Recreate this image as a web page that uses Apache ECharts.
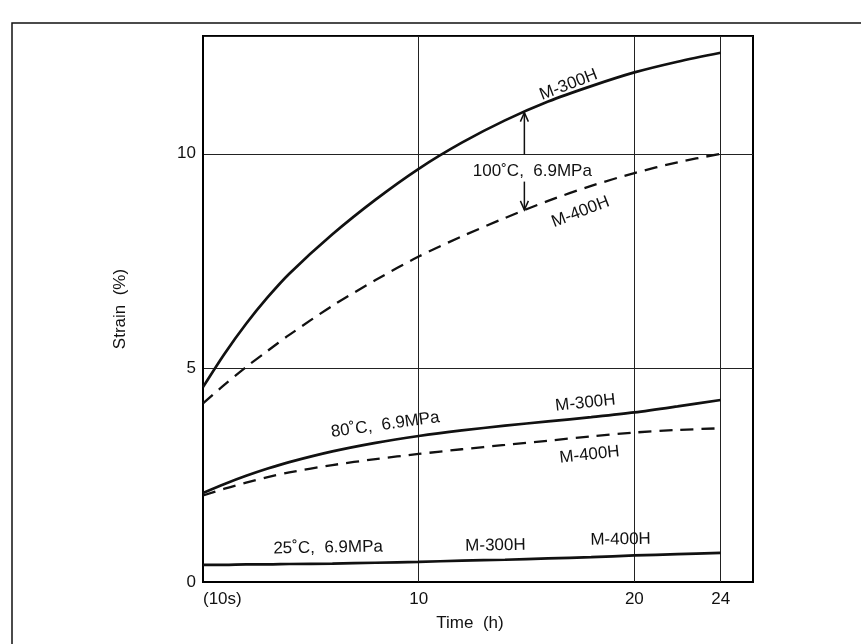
<!DOCTYPE html>
<html>
<head>
<meta charset="utf-8">
<script src="https://cdn.jsdelivr.net/npm/echarts@6/dist/echarts.min.js"></script>
<style>
html,body{margin:0;padding:0;background:#fff;}
#c{width:861px;height:644px;}
</style>
</head>
<body>
<div id="c"></div>
<script>
// ---- data ----
const times = [0, 1, 2, 3, 4, 6, 8, 10, 12, 14, 16, 18, 20, 22, 24];
const s100_M300H = [4.55, 5.33, 6.03, 6.65, 7.2, 8.12, 8.93, 9.65, 10.26, 10.78, 11.22, 11.58, 11.9, 12.15, 12.36];
const s100_M400H = [4.17, 4.61, 5.02, 5.4, 5.77, 6.45, 7.05, 7.6, 8.07, 8.5, 8.9, 9.25, 9.55, 9.8, 10.0];
const s80_M300H = [2.08, 2.29, 2.48, 2.65, 2.8, 3.05, 3.25, 3.41, 3.54, 3.65, 3.75, 3.85, 3.96, 4.1, 4.25];
const s80_M400H = [2.02, 2.18, 2.32, 2.45, 2.56, 2.73, 2.87, 2.99, 3.1, 3.2, 3.3, 3.4, 3.49, 3.55, 3.59];
const s25_both = [0.4, 0.4, 0.41, 0.41, 0.42, 0.43, 0.45, 0.47, 0.5, 0.52, 0.55, 0.58, 0.62, 0.65, 0.68];

const xTickValues = [0, 10, 20, 24];
const xTickLabels = ['(10s)', '10', '20', '24'];
const xGridValues = [10, 20, 24];
const yTickValues = [0, 5, 10];

// annotation texts: [text, x (h), y (%), rotation deg]
const annTexts = ['M-300H', '100˚C,  6.9MPa', 'M-400H', '80˚C,  6.9MPa', 'M-300H', 'M-400H', '25˚C,  6.9MPa', 'M-300H', 'M-400H'];
const annX = [16.95, 15.27, 17.5, 8.45, 17.73, 17.92, 5.8, 13.56, 19.36];
const annY = [11.61, 9.6, 8.64, 3.67, 4.18, 2.97, 0.8, 0.85, 0.99];
const annRot = [21, 0, 21, 8, 6, 6, 1, 1, 1];

// arrows: x (h), from y, to y (tip)
const arrowX = 14.9;
const arrowFrom = [9.98, 9.35];
const arrowTo = [10.96, 8.69];

// ---- chart ----
const FONT = '"Liberation Sans", Arial, Helvetica, sans-serif';
const chart = echarts.init(document.getElementById('c'), null, {renderer: 'canvas'});

function pairs(ys) { return times.map((t, i) => [t, ys[i]]); }

const solid = {color: '#111', width: 2.7, type: 'solid'};
const dashed = {color: '#111', width: 2.3, type: [13, 8]};

const option = {
  backgroundColor: '#fff',
  animation: false,
  grid: {left: 203, right: 108, top: 36, bottom: 62, show: true, borderColor: '#000', borderWidth: 2, backgroundColor: 'transparent'},
  xAxis: {
    type: 'value', min: 0, max: 25.5,
    name: 'Time  (h)', nameLocation: 'middle', nameGap: 33,
    nameTextStyle: {fontFamily: FONT, fontSize: 17, color: '#111', padding: [0, 16, 0, 0]},
    axisLine: {show: true, lineStyle: {color: '#000', width: 2}},
    axisTick: {show: false},
    splitLine: {show: false},
    axisLabel: {
      customValues: xTickValues,
      alignMinLabel: 'left',
      formatter: v => { const i = xTickValues.indexOf(v); return i >= 0 ? xTickLabels[i] : ''; },
      fontFamily: FONT, fontSize: 17, color: '#111', margin: 9
    }
  },
  yAxis: {
    type: 'value', min: 0, max: 12.75, interval: 5,
    name: 'Strain  (%)', nameLocation: 'middle', nameGap: 74,
    nameTextStyle: {fontFamily: FONT, fontSize: 17, color: '#111'},
    axisLine: {show: true, lineStyle: {color: '#000', width: 2}},
    axisTick: {show: false},
    splitLine: {show: true, lineStyle: {color: '#222', width: 1}},
    axisLabel: {
      formatter: v => (yTickValues.indexOf(v) >= 0 ? String(v) : ''),
      fontFamily: FONT, fontSize: 17, color: '#111', margin: 7,
      showMaxLabel: false
    }
  },
  series: [
    {name: '100 M-300H', type: 'line', data: pairs(s100_M300H), showSymbol: false, smooth: 0.3, lineStyle: solid, z: 3,
     markLine: {silent: true, symbol: 'none', label: {show: false}, lineStyle: {color: '#222', width: 1, type: 'solid'},
       data: xGridValues.map(v => ({xAxis: v})), z: 1}},
    {name: '100 M-400H', type: 'line', data: pairs(s100_M400H), showSymbol: false, smooth: 0.3, lineStyle: dashed, z: 3},
    {name: '80 M-300H', type: 'line', data: pairs(s80_M300H), showSymbol: false, smooth: 0.3, lineStyle: solid, z: 3},
    {name: '80 M-400H', type: 'line', data: pairs(s80_M400H), showSymbol: false, smooth: 0.3, lineStyle: dashed, z: 3},
    {name: '25 both', type: 'line', data: pairs(s25_both), showSymbol: false, smooth: 0.3, lineStyle: solid, z: 3}
  ]
};
chart.setOption(option);

const px = (x, y) => chart.convertToPixel({gridIndex: 0}, [x, y]);
const graphics = [];
// outer frame of the figure
graphics.push({type: 'rect', shape: {x: 12, y: 23, width: 900, height: 700}, style: {fill: 'none', stroke: '#111', lineWidth: 1.5}, silent: true, z: 0});
annTexts.forEach((t, i) => {
  const p = px(annX[i], annY[i]);
  graphics.push({type: 'text', x: p[0], y: p[1], rotation: annRot[i] * Math.PI / 180,
    style: {text: t, font: '17px ' + FONT, fill: '#111', align: 'center', verticalAlign: 'middle'}, z: 10});
});
arrowFrom.forEach((fy, i) => {
  const a = px(arrowX, fy), b = px(arrowX, arrowTo[i]);
  const dir = b[1] < a[1] ? 1 : -1;
  graphics.push({type: 'polyline', shape: {points: [a, b]}, style: {stroke: '#111', lineWidth: 1.5, fill: 'none'}, z: 10});
  graphics.push({type: 'polyline', shape: {points: [[b[0] - 4, b[1] + dir * 9], b, [b[0] + 4, b[1] + dir * 9]]}, style: {stroke: '#111', lineWidth: 1.5, fill: 'none'}, z: 10});
});
chart.setOption({graphic: graphics});
</script>
</body>
</html>
